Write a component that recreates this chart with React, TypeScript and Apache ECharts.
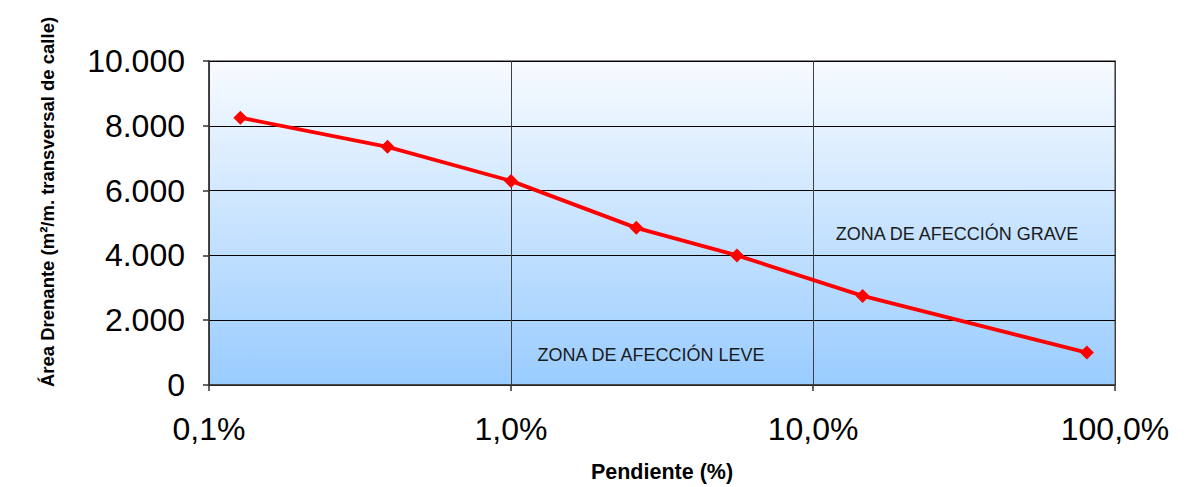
import React, { useEffect, useRef } from "react";
import * as echarts from "echarts";

const pendiente = [0.127, 0.39, 1.0, 2.6, 5.6, 14.6, 80.7];
const area = [8250, 7350, 6300, 4850, 4000, 2750, 1000];
const yTicks = [0, 2000, 4000, 6000, 8000, 10000];
const xTicks = [0.1, 1, 10, 100];
const zoneLabels = ["ZONA DE AFECCIÓN GRAVE", "ZONA DE AFECCIÓN LEVE"];

const FONT = "'Liberation Sans', Arial, sans-serif";

export default function App() {
  const ref = useRef<HTMLDivElement>(null);
  useEffect(() => {
    document.body.style.margin = "0";
    if (!ref.current) return;
    const chart = echarts.init(ref.current, undefined, { renderer: "svg" });
    chart.setOption({
      animation: false,
      textStyle: { fontFamily: FONT },
      grid: {
        left: 209,
        right: 83,
        top: 61,
        bottom: 102,
        show: true,
        borderColor: "#8c8c8c",
        borderWidth: 2,
        backgroundColor: new echarts.graphic.LinearGradient(0, 0, 0, 1, [
          { offset: 0, color: "#f8fbff" },
          { offset: 1, color: "#99ccff" },
        ]),
      },
      xAxis: {
        type: "log",
        logBase: 10,
        min: xTicks[0],
        max: xTicks[xTicks.length - 1],
        axisLine: { show: true, lineStyle: { color: "#333", width: 1.5 } },
        axisTick: { show: true, length: 6, lineStyle: { color: "#333", width: 1.5 } },
        splitLine: { show: true, lineStyle: { color: "#404040", width: 1 } },
        minorTick: { show: false },
        axisLabel: {
          fontSize: 32,
          color: "#000",
          fontFamily: FONT,
          margin: 28,
          formatter: (v: number) => {
            const s = (Math.round(v * 10) / 10).toFixed(1).replace(".", ",");
            return s + "%";
          },
        },
      },
      yAxis: {
        type: "value",
        min: yTicks[0],
        max: yTicks[yTicks.length - 1],
        interval: 2000,
        axisLine: { show: true, lineStyle: { color: "#333", width: 1.5 } },
        axisTick: { show: true, length: 6, lineStyle: { color: "#333", width: 1.5 } },
        splitLine: { show: true, lineStyle: { color: "#000", width: 1 } },
        axisLabel: {
          fontSize: 32,
          color: "#000",
          fontFamily: FONT,
          margin: 24,
          formatter: (v: number) =>
            String(v).replace(/\B(?=(\d{3})+(?!\d))/g, "."),
        },
      },
      series: [
        {
          type: "line",
          data: pendiente.map((x, i) => [x, area[i]]),
          lineStyle: { color: "#ff0000", width: 3.8 },
          itemStyle: { color: "#ff0000" },
          symbol: "diamond",
          symbolSize: 14,
          showSymbol: true,
          z: 5,
        },
      ],
      graphic: [
        {
          type: "text",
          x: 47,
          y: 202,
          rotation: Math.PI / 2,
          style: {
            text: "Área Drenante (m²/m. transversal de calle)",
            font: `bold 18.5px ${FONT}`,
            fill: "#000",
            textAlign: "center",
            textVerticalAlign: "middle",
          },
        },
        {
          type: "text",
          x: 662,
          y: 472,
          style: {
            text: "Pendiente (%)",
            font: `bold 21.5px ${FONT}`,
            fill: "#000",
            textAlign: "center",
            textVerticalAlign: "middle",
          },
        },
        {
          type: "text",
          x: 957,
          y: 234,
          z: 10,
          style: {
            text: zoneLabels[0],
            font: `18px ${FONT}`,
            fill: "#1a1a1a",
            textAlign: "center",
            textVerticalAlign: "middle",
          },
        },
        {
          type: "text",
          x: 651,
          y: 355,
          z: 10,
          style: {
            text: zoneLabels[1],
            font: `18px ${FONT}`,
            fill: "#1a1a1a",
            textAlign: "center",
            textVerticalAlign: "middle",
          },
        },
      ],
    });
    return () => chart.dispose();
  }, []);
  return <div ref={ref} style={{ width: 1198, height: 487 }} />;
}
